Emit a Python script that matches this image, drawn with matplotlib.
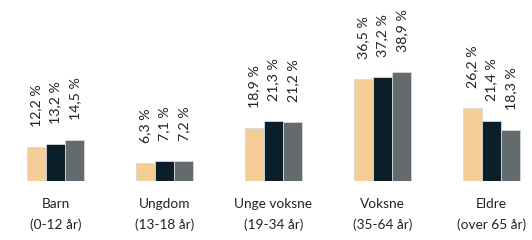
import matplotlib.pyplot as plt
import numpy as np

plt.rcParams['font.family'] = ['Lato', 'DejaVu Sans']

categories = ["Barn\n(0-12 år)", "Ungdom\n(13-18 år)", "Unge voksne\n(19-34 år)",
              "Voksne\n(35-64 år)", "Eldre\n(over 65 år)"]
series_1 = [12.2, 6.3, 18.9, 36.5, 26.2]
series_2 = [13.2, 7.1, 21.3, 37.2, 21.4]
series_3 = [14.5, 7.2, 21.2, 38.9, 18.3]
colors = ["#F5CD96", "#0B1F2A", "#636B6E"]

fig = plt.figure(figsize=(5.32, 2.4), dpi=100)
ax = fig.add_axes([0, 0.246, 1, 0.754])

x = np.arange(len(categories))
w = 0.177
for i, (vals, c) in enumerate(zip([series_1, series_2, series_3], colors)):
    bars = ax.bar(x + (i - 1) * w, vals, w, color=c, edgecolor="#d9d9d9", linewidth=0.6)
    for b, v in zip(bars, vals):
        ax.annotate(f"{v:.1f} %".replace(".", ","), (b.get_x() + b.get_width() / 2, v),
                    xytext=(0, 20), textcoords="offset pixels",
                    rotation=90, ha="center", va="bottom", fontsize=10.2, color="#222222")

ax.set_xlim(-0.509, 4.372)
ax.set_ylim(0, 64.6)
ax.set_xticks(x)
ax.set_xticklabels(categories, fontsize=9.8, color="#222222", linespacing=1.85)
ax.tick_params(axis="x", length=0, pad=12)
ax.set_yticks([])
for s in ax.spines.values():
    s.set_visible(False)

plt.savefig("out.png", dpi=100)
plt.close()
